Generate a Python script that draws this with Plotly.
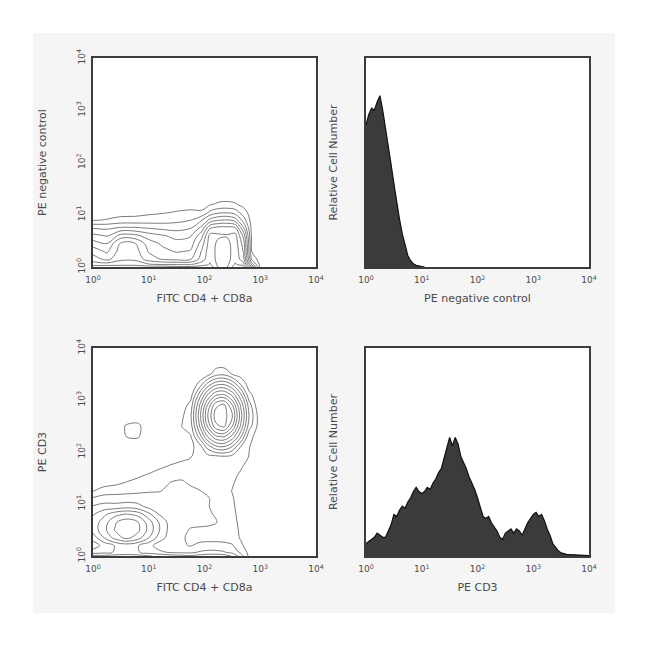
import plotly.graph_objects as go

# ---------------- data (log10 decades) ----------------
# Top-left: FITC CD4 + CD8a (x) vs PE negative control (y), density grid
tl_fitc_log = [0, 0.25, 0.5, 0.75, 1.0, 1.25, 1.5, 1.75, 1.95, 2.1, 2.25, 2.4, 2.55, 2.7, 2.85, 3.0, 3.2, 4.0]
tl_pe_log = [0, 0.05, 0.15, 0.3, 0.45, 0.6, 0.75, 0.9, 1.05, 1.2, 1.35, 4.0]
tl_density = [
    [9.2, 9.2, 9.2, 9.2, 9.0, 9.0, 8.8, 8.8, 9.0, 9.2, 7.4, 7.4, 9.2, 9.0, 5.0, 0.3, 0, 0],
    [8.0, 8.0, 8.1, 8.1, 7.6, 7.4, 7.4, 7.4, 8.0, 8.6, 7.2, 7.2, 8.6, 8.0, 3.0, 0.1, 0, 0],
    [7.0, 6.2, 7.3, 7.3, 6.0, 5.4, 5.2, 5.4, 7.0, 8.3, 7.0, 6.9, 8.3, 6.8, 1.2, 0, 0, 0],
    [6.1, 5.3, 7.0, 7.0, 5.4, 4.8, 4.4, 4.6, 6.6, 8.2, 7.0, 6.9, 8.2, 6.4, 0.4, 0, 0, 0],
    [5.0, 4.5, 6.7, 6.6, 5.0, 4.3, 3.8, 4.0, 6.0, 8.1, 7.2, 7.1, 8.1, 6.0, 0.3, 0, 0, 0],
    [3.8, 3.4, 4.9, 4.8, 4.0, 3.6, 3.2, 3.4, 5.2, 7.9, 7.7, 7.6, 7.9, 5.2, 0.2, 0, 0, 0],
    [2.4, 2.3, 2.6, 2.6, 2.4, 2.2, 2.1, 2.4, 3.8, 6.4, 6.8, 6.8, 6.6, 3.6, 0.1, 0, 0, 0],
    [0.4, 0.55, 0.8, 0.8, 0.9, 1.0, 1.2, 1.45, 2.4, 3.8, 4.4, 4.55, 4.0, 2.0, 0, 0, 0, 0],
    [0, 0.05, 0.1, 0.15, 0.3, 0.4, 0.55, 0.65, 0.6, 1.7, 2.2, 2.3, 2.0, 0.9, 0, 0, 0, 0],
    [0, 0, 0, 0, 0, 0.05, 0.1, 0.15, 0.2, 0.4, 0.65, 0.7, 0.6, 0.2, 0, 0, 0, 0],
    [0, 0, 0, 0, 0, 0, 0, 0, 0, 0, 0.1, 0.15, 0.05, 0, 0, 0, 0, 0],
    [0, 0, 0, 0, 0, 0, 0, 0, 0, 0, 0, 0, 0, 0, 0, 0, 0, 0],
]

# Bottom-left: FITC CD4 + CD8a (x) vs PE CD3 (y), density grid
bl_fitc_log = [0, 0.2, 0.4, 0.6, 0.8, 1.0, 1.2, 1.4, 1.6, 1.75, 1.9, 2.05, 2.2, 2.35, 2.5, 2.65, 2.8, 2.95, 3.1, 3.3, 4.0]
bl_cd3_log = [0, 0.07, 0.2, 0.35, 0.5, 0.65, 0.8, 0.95, 1.1, 1.25, 1.4, 1.55, 1.7, 1.9, 2.1, 2.3, 2.5, 2.7, 2.9, 3.1, 3.3, 3.5, 3.7, 4.0]
bl_density = [
    [4.8, 4.8, 4.9, 5.0, 4.9, 4.6, 4.3, 4.0, 3.8, 3.7, 3.9, 4.1, 4.2, 4.0, 3.4, 2.0, 0.3, 0, 0, 0, 0],
    [3.0, 3.2, 3.6, 3.8, 3.6, 3.1, 2.7, 2.4, 2.3, 2.3, 2.6, 2.8, 2.8, 2.6, 2.2, 1.3, 0.2, 0, 0, 0, 0],
    [2.0, 2.83, 3.58, 3.86, 3.58, 2.83, 2.0, 1.8, 1.6, 1.45, 1.7, 1.8, 1.8, 1.8, 1.6, 0.7, 0, 0, 0, 0, 0],
    [2.92, 4.5, 5.9, 6.8, 6.0, 4.5, 2.92, 2.0, 1.6, 1.3, 1.2, 1.2, 1.2, 1.1, 1.0, 0.4, 0, 0, 0, 0, 0],
    [3.9, 5.2, 6.6, 7.2, 6.8, 5.2, 3.45, 2.0, 1.8, 1.4, 1.3, 1.2, 1.1, 1.0, 1.0, 0.3, 0, 0, 0, 0, 0],
    [3.9, 5.0, 6.4, 7.1, 6.6, 5.0, 3.3, 2.0, 2.0, 1.8, 1.8, 1.8, 1.6, 1.0, 0.9, 0.2, 0, 0, 0, 0, 0],
    [3.4, 4.3, 5.2, 5.6, 5.2, 3.8, 2.4, 2.0, 2.0, 2.0, 1.9, 1.7, 1.4, 1.0, 0.8, 0.1, 0, 0, 0, 0, 0],
    [2.6, 2.9, 2.85, 3.09, 2.85, 2.19, 2.0, 2.0, 2.0, 2.0, 2.0, 1.6, 1.2, 1.0, 0.7, 0, 0, 0, 0, 0, 0],
    [1.7, 2.0, 2.0, 2.0, 2.0, 2.0, 2.0, 2.0, 2.0, 2.0, 2.0, 1.7, 1.0, 1.0, 0.6, 0, 0, 0, 0, 0, 0],
    [0.45, 1.0, 1.1, 1.2, 1.3, 1.4, 1.45, 1.8, 2.0, 1.9, 1.6, 1.2, 1.0, 1.0, 0.45, 0, 0, 0, 0, 0, 0],
    [0, 0.1, 0.3, 0.6, 0.9, 1.0, 1.0, 1.6, 1.7, 1.3, 1.0, 1.0, 1.0, 1.0, 0.6, 0.1, 0, 0, 0, 0, 0],
    [0, 0, 0, 0, 0.3, 0.65, 1.0, 1.0, 1.2, 1.0, 1.0, 1.0, 1.0, 1.0, 0.8, 0.3, 0, 0, 0, 0, 0],
    [0, 0, 0, 0, 0, 0, 0.4, 0.7, 1.0, 1.0, 1.0, 1.0, 1.0, 1.0, 1.0, 0.6, 0, 0, 0, 0, 0],
    [0, 0, 0, 0, 0, 0, 0, 0, 0.2, 0.45, 1.0, 1.0, 1.04, 1.2, 1.0, 1.0, 0.45, 0, 0, 0, 0],
    [0, 0, 0, 0, 0, 0, 0, 0, 0, 0.3, 0.8, 2.85, 4.22, 4.43, 3.41, 1.46, 0.55, 0, 0, 0, 0],
    [0, 0, 0, 0.52, 0.6, 0, 0, 0, 0, 0.4, 2.78, 5.47, 7.33, 7.64, 6.21, 3.73, 0.8, 0.2, 0, 0, 0],
    [0, 0, 0, 0.58, 0.7, 0, 0, 0, 0.55, 1.0, 4.25, 7.51, 10.23, 10.79, 8.51, 5.36, 1.99, 0.4, 0, 0, 0],
    [0, 0, 0, 0, 0, 0, 0, 0, 0.35, 1.25, 4.8, 8.34, 11.0, 11.0, 9.52, 5.98, 2.43, 0.45, 0, 0, 0],
    [0, 0, 0, 0, 0, 0, 0, 0, 0, 0.85, 4.25, 7.51, 10.23, 10.79, 8.51, 5.36, 1.99, 0, 0, 0, 0],
    [0, 0, 0, 0, 0, 0, 0, 0, 0, 0, 2.78, 5.47, 7.33, 7.64, 6.21, 3.73, 0.76, 0, 0, 0, 0],
    [0, 0, 0, 0, 0, 0, 0, 0, 0, 0, 0.67, 2.85, 4.22, 4.43, 3.41, 1.46, 0, 0, 0, 0, 0],
    [0, 0, 0, 0, 0, 0, 0, 0, 0, 0, 0, 0, 1.04, 1.2, 0.42, 0, 0, 0, 0, 0, 0],
    [0, 0, 0, 0, 0, 0, 0, 0, 0, 0, 0, 0, 0, 0, 0, 0, 0, 0, 0, 0, 0],
    [0, 0, 0, 0, 0, 0, 0, 0, 0, 0, 0, 0, 0, 0, 0, 0, 0, 0, 0, 0, 0],
]

# Top-right histogram: PE negative control
pe_neg_log = [0.0, 0.05, 0.1, 0.15, 0.2, 0.25, 0.3, 0.35, 0.4, 0.45, 0.5, 0.55, 0.6,
              0.65, 0.7, 0.75, 0.8, 0.85, 0.9, 0.95, 1.0, 1.05]
pe_neg_counts = [68, 73, 76, 75, 79, 82, 75, 67, 58, 49, 40, 31, 23,
                 16, 10, 5.5, 3, 1.5, 0.8, 0.4, 0.2, 0]

# Bottom-right histogram: PE CD3
pe_cd3_log = [0.0, 0.05, 0.1, 0.15, 0.2, 0.25, 0.3, 0.35, 0.4, 0.45, 0.5, 0.55, 0.6, 0.65, 0.7, 0.75,
              0.8, 0.85, 0.9, 0.95, 1.0, 1.05, 1.1, 1.15, 1.2, 1.25, 1.3, 1.35, 1.4, 1.45, 1.5, 1.55,
              1.6, 1.65, 1.7, 1.75, 1.8, 1.85, 1.9, 1.95, 2.0, 2.05, 2.1, 2.15, 2.2, 2.25, 2.3, 2.35,
              2.4, 2.45, 2.5, 2.55, 2.6, 2.65, 2.7, 2.75, 2.8, 2.85, 2.9, 2.95, 3.0, 3.05, 3.1, 3.15,
              3.2, 3.25, 3.3, 3.35, 3.4, 3.45, 3.5, 3.55, 3.6, 3.65, 3.7, 3.75, 3.8, 3.85, 3.9, 3.95, 4.0]
pe_cd3_counts = [6, 7, 8, 9, 11, 10, 9, 9, 12, 15, 20, 19, 22, 24, 23, 26,
                 28, 31, 33, 31, 30, 31, 33, 32, 35, 37, 40, 42, 47, 52, 57, 53,
                 57, 54, 48, 45, 42, 38, 35, 32, 28, 23, 19, 18, 19, 16, 14, 12,
                 9, 8, 11, 12, 13, 11, 13, 12, 10, 13, 16, 18, 20, 21, 19, 20,
                 17, 13, 10, 6, 4, 2.5, 1.5, 1, 0.8, 0.7, 0.6, 0.5, 0.5, 0.4, 0.4, 0.3, 0.2]

decade_ticks = [1, 10, 100, 1000, 10000]
decade_labels = ["10<sup>0</sup>", "10<sup>1</sup>", "10<sup>2</sup>", "10<sup>3</sup>", "10<sup>4</sup>"]

# ---------------- styling ----------------
FONT = "DejaVu Sans, Liberation Sans, Arial, sans-serif"
TEXT_COL = "#4a4a4a"
FRAME_COL = "#3c3c3c"
CONTOUR_COL = "#5a5a5a"

W = 650.0
left_dom = [93 / W, 316 / W]
right_dom = [366 / W, 589 / W]
top_dom = [1 - 267 / W, 1 - 58 / W]
bot_dom = [1 - 556 / W, 1 - 348 / W]


def lin(vals):
    return [10 ** v for v in vals]


fig = go.Figure()

contour_common = dict(
    contours=dict(coloring="lines", start=0.5, end=10.5, size=1),
    colorscale=[[0, CONTOUR_COL], [1, CONTOUR_COL]],
    showscale=False,
    line=dict(width=0.8, smoothing=1.0),
    hoverinfo="skip",
)

fig.add_trace(go.Contour(x=lin(tl_fitc_log), y=lin(tl_pe_log), z=tl_density,
                         xaxis="x", yaxis="y", **contour_common))
fig.add_trace(go.Contour(x=lin(bl_fitc_log), y=lin(bl_cd3_log), z=bl_density,
                         xaxis="x3", yaxis="y3", **contour_common))

hist_common = dict(mode="lines", fill="tozeroy", fillcolor="#3b3b3b",
                   line=dict(color="#111111", width=1.2), hoverinfo="skip")
fig.add_trace(go.Scatter(x=lin(pe_neg_log), y=pe_neg_counts, xaxis="x2", yaxis="y2", **hist_common))
fig.add_trace(go.Scatter(x=lin(pe_cd3_log), y=pe_cd3_counts, xaxis="x4", yaxis="y4", **hist_common))


def frame():
    return dict(showgrid=False, zeroline=False, showline=True, mirror=True,
                linecolor=FRAME_COL, linewidth=1.6, ticks="", automargin=False)


def xax(domain, anchor, title):
    return dict(domain=domain, anchor=anchor, type="log", range=[0, 4],
                tickvals=decade_ticks, ticktext=decade_labels, ticklabelstandoff=4,
                tickfont=dict(family=FONT, size=9, color=TEXT_COL),
                title=dict(text=title, font=dict(family=FONT, size=11, color=TEXT_COL), standoff=10),
                **frame())


def ylog(domain, anchor, title):
    return dict(domain=domain, anchor=anchor, type="log", range=[0, 4],
                tickvals=decade_ticks, ticktext=decade_labels, tickangle=-90, ticklabelstandoff=3,
                tickfont=dict(family=FONT, size=9, color=TEXT_COL),
                title=dict(text=title, font=dict(family=FONT, size=11, color=TEXT_COL), standoff=26),
                **frame())


def ylin(domain, anchor, title):
    return dict(domain=domain, anchor=anchor, type="linear", range=[0, 100],
                showticklabels=False,
                title=dict(text=title, font=dict(family=FONT, size=11, color=TEXT_COL), standoff=24),
                **frame())


fig.update_layout(
    template="none",
    width=650, height=650,
    margin=dict(l=0, r=0, t=0, b=0, autoexpand=False),
    paper_bgcolor="white", plot_bgcolor="white",
    font=dict(family=FONT, color=TEXT_COL),
    showlegend=False,
    xaxis=xax(left_dom, "y", "FITC CD4 + CD8a"),
    yaxis=ylog(top_dom, "x", "PE negative control"),
    xaxis2=xax(right_dom, "y2", "PE negative control"),
    yaxis2=ylin(top_dom, "x2", "Relative Cell Number"),
    xaxis3=xax(left_dom, "y3", "FITC CD4 + CD8a"),
    yaxis3=ylog(bot_dom, "x3", "PE CD3"),
    xaxis4=xax(right_dom, "y4", "PE CD3"),
    yaxis4=ylin(bot_dom, "x4", "Relative Cell Number"),
    shapes=[
        dict(type="rect", xref="paper", yref="paper", x0=33 / W, x1=615 / W, y0=1 - 613 / W, y1=1 - 33 / W,
             fillcolor="#f5f5f5", line=dict(width=0), layer="below"),
        dict(type="rect", xref="paper", yref="paper", x0=left_dom[0], x1=left_dom[1], y0=top_dom[0], y1=top_dom[1],
             fillcolor="white", line=dict(width=0), layer="below"),
        dict(type="rect", xref="paper", yref="paper", x0=right_dom[0], x1=right_dom[1], y0=top_dom[0], y1=top_dom[1],
             fillcolor="white", line=dict(width=0), layer="below"),
        dict(type="rect", xref="paper", yref="paper", x0=left_dom[0], x1=left_dom[1], y0=bot_dom[0], y1=bot_dom[1],
             fillcolor="white", line=dict(width=0), layer="below"),
        dict(type="rect", xref="paper", yref="paper", x0=right_dom[0], x1=right_dom[1], y0=bot_dom[0], y1=bot_dom[1],
             fillcolor="white", line=dict(width=0), layer="below"),
    ],
)

fig.write_html("out.html",
               config={"displayModeBar": False, "staticPlot": True},
               post_script="document.body.style.margin='0';document.body.style.padding='0';")
